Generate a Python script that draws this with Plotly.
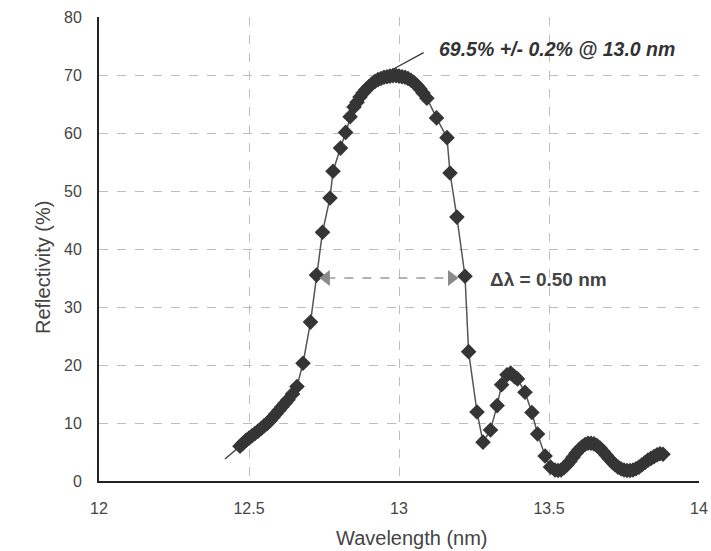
import plotly.graph_objects as go

# ---- data ----
wavelength = [12.47, 12.48, 12.49, 12.50, 12.51, 12.52, 12.53, 12.54, 12.55, 12.56,
              12.57, 12.58, 12.59, 12.60, 12.61, 12.62, 12.63, 12.645, 12.66, 12.68,
              12.705, 12.725, 12.745, 12.77, 12.78, 12.805, 12.822, 12.837, 12.85, 12.86,
              12.87, 12.88, 12.89, 12.90, 12.91, 12.92, 12.93, 12.94, 12.95, 12.96,
              12.97, 12.98, 12.99, 13.00, 13.01, 13.02, 13.03, 13.04, 13.05, 13.06,
              13.07, 13.08, 13.093, 13.125, 13.16, 13.17, 13.193, 13.22, 13.232, 13.26,
              13.28, 13.305, 13.327, 13.342, 13.36, 13.372, 13.385, 13.395, 13.42, 13.443,
              13.462, 13.487, 13.505, 13.52, 13.53, 13.54, 13.55, 13.56, 13.57, 13.58,
              13.59, 13.60, 13.61, 13.62, 13.63, 13.64, 13.65, 13.66, 13.67, 13.68,
              13.69, 13.70, 13.71, 13.72, 13.73, 13.74, 13.75, 13.76, 13.77, 13.78,
              13.79, 13.80, 13.81, 13.82, 13.83, 13.84, 13.85, 13.86, 13.87, 13.88]
reflectivity = [6.0, 6.5, 7.0, 7.4, 7.8, 8.2, 8.6, 9.0, 9.5, 9.9,
                10.4, 11.0, 11.6, 12.2, 12.8, 13.4, 14.0, 15.0, 16.3, 20.3,
                27.4, 35.5, 42.9, 48.8, 53.4, 57.4, 60.1, 62.8, 64.5, 65.3,
                66.2, 66.9, 67.5, 68.0, 68.5, 68.9, 69.2, 69.4, 69.6, 69.7,
                69.8, 69.9, 69.9, 69.8, 69.7, 69.6, 69.4, 69.1, 68.7, 68.2,
                67.6, 66.9, 66.0, 62.6, 59.2, 53.1, 45.5, 35.3, 22.3, 11.9,
                6.7, 8.8, 13.0, 16.6, 18.3, 18.6, 18.0, 17.6, 15.3, 11.8,
                8.1, 4.3, 2.4, 1.9, 1.8, 1.9, 2.3, 2.8, 3.4, 4.1,
                4.8, 5.4, 5.9, 6.3, 6.5, 6.5, 6.4, 6.1, 5.7, 5.1,
                4.5, 3.9, 3.3, 2.8, 2.4, 2.1, 1.9, 1.8, 1.8, 1.9,
                2.1, 2.4, 2.8, 3.2, 3.6, 3.9, 4.2, 4.5, 4.7, 4.6]

lead_x = [12.42, 12.47]
lead_y = [3.8, 6.0]

fwhm_x = [12.758, 13.175]
fwhm_y = [35.0, 35.0]

x_ticks = [12, 12.5, 13, 13.5, 14]
x_tick_labels = ["12", "12.5", "13", "13.5", "14"]
y_ticks = [0, 10, 20, 30, 40, 50, 60, 70, 80]

peak_label = "<b><i>69.5% +/- 0.2% @ 13.0 nm</i></b>"
peak_label_pos = (13.525, 74.4)
peak_leader = [(12.977, 70.9), (13.087, 74.0)]
fwhm_label = "<b>\u0394\u03bb = 0.50 nm</b>"
fwhm_label_pos = (13.497, 34.8)

FONT = "Liberation Sans, Arial, sans-serif"

fig = go.Figure()

fig.add_trace(go.Scatter(x=lead_x, y=lead_y, mode="lines",
                         line=dict(color="#444444", width=1.5),
                         showlegend=False, hoverinfo="skip"))

fig.add_trace(go.Scatter(x=fwhm_x, y=fwhm_y, mode="lines",
                         line=dict(color="#9a9a9a", width=1.5, dash="dash"),
                         showlegend=False, hoverinfo="skip"))

fig.add_trace(go.Scatter(x=wavelength, y=reflectivity, mode="lines+markers",
                         line=dict(color="#555555", width=1.5),
                         marker=dict(symbol="diamond", size=12, color="#353535",
                                     line=dict(width=0)),
                         showlegend=False))

fig.add_trace(go.Scatter(x=fwhm_x, y=fwhm_y, mode="markers",
                         marker=dict(symbol=["triangle-left", "triangle-right"], size=14,
                                     color="#8a8a8a", line=dict(width=0)),
                         showlegend=False, hoverinfo="skip"))

fig.add_annotation(x=peak_leader[0][0], y=peak_leader[0][1],
                   ax=peak_leader[1][0], ay=peak_leader[1][1],
                   axref="x", ayref="y", xref="x", yref="y",
                   text="", showarrow=True, arrowhead=0, arrowwidth=1.2,
                   arrowcolor="#333333")
fig.add_annotation(x=peak_label_pos[0], y=peak_label_pos[1], text=peak_label,
                   showarrow=False, font=dict(family=FONT, size=19.5, color="#333333"))
fig.add_annotation(x=fwhm_label_pos[0], y=fwhm_label_pos[1], text=fwhm_label,
                   showarrow=False, font=dict(family=FONT, size=19, color="#444444"))

fig.add_annotation(x=0.5, y=0, xref="paper", yref="paper",
                   text="Wavelength (nm)", showarrow=False,
                   xshift=13, yshift=-57, yanchor="middle",
                   font=dict(family=FONT, size=20, color="#444444"))
fig.add_annotation(x=0, y=0.5, xref="paper", yref="paper",
                   text="Reflectivity (%)", showarrow=False, textangle=-90,
                   xshift=-69, yshift=-19,
                   font=dict(family=FONT, size=20, color="#444444"))

fig.update_xaxes(range=[12, 14], tickvals=x_ticks, ticktext=x_tick_labels,
                 showgrid=True, gridcolor="#bdbdbd", griddash="dash", gridwidth=1,
                 showline=True, linecolor="#222222", linewidth=1.5,
                 ticks="", ticklabelstandoff=12, zeroline=False,
                 tickfont=dict(family=FONT, size=16, color="#444444"))
fig.update_yaxes(range=[0, 80], tickvals=y_ticks,
                 showgrid=True, gridcolor="#bdbdbd", griddash="dash", gridwidth=1,
                 showline=True, linecolor="#222222", linewidth=2,
                 ticks="", ticklabelstandoff=12, zeroline=False,
                 tickfont=dict(family=FONT, size=16, color="#444444"))

fig.update_layout(width=711, height=551,
                  margin=dict(l=99, r=12, t=17, b=70, autoexpand=False),
                  plot_bgcolor="white", paper_bgcolor="white",
                  font=dict(family=FONT))

# remove the page's default body margin so the 711x551 figure fills the window exactly
fig.write_html("out.html",
               config={"displayModeBar": False},
               post_script="document.body.style.margin='0';document.body.style.overflow='hidden';")
